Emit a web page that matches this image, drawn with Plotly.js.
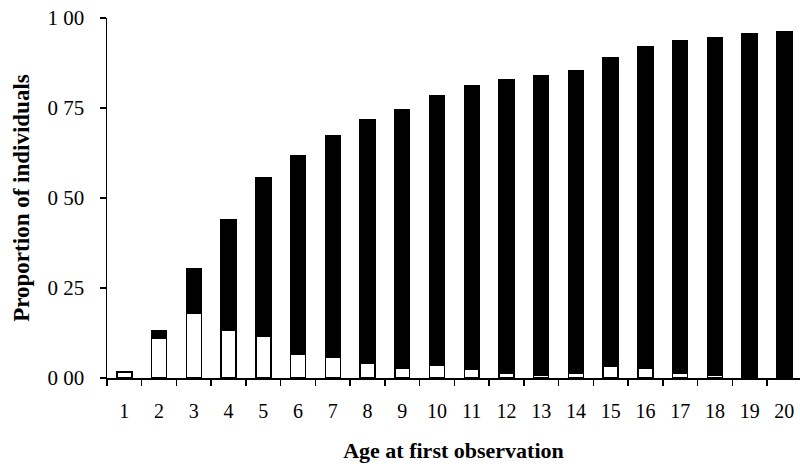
<!DOCTYPE html>
<html>
<head>
<meta charset="utf-8">
<script src="https://cdn.plot.ly/plotly-3.0.1.min.js"></script>
<style>html,body{margin:0;padding:0;background:#fff;}#chart{width:800px;height:467px;}</style>
</head>
<body>
<div id="chart"></div>
<script>
const ages = ["1","2","3","4","5","6","7","8","9","10","11","12","13","14","15","16","17","18","19","20"];
const whiteValues = [0.016, 0.111, 0.181, 0.134, 0.117, 0.065, 0.057, 0.042, 0.028, 0.036, 0.025, 0.013, 0.009, 0.013, 0.032, 0.028, 0.013, 0.008, 0.004, 0];
const blackValues = [0, 0.020, 0.123, 0.306, 0.439, 0.552, 0.617, 0.674, 0.717, 0.747, 0.786, 0.815, 0.830, 0.841, 0.857, 0.891, 0.923, 0.938, 0.952, 0.962];
const yTickVals = [0, 0.25, 0.5, 0.75, 1];
const yTickText = ["0 00", "0 25", "0 50", "0 75", "1 00"];

const font = "Liberation Serif, Times New Roman, serif";

const traces = [
  {type: "bar", x: ages, y: whiteValues, width: 0.43,
   marker: {color: "#ffffff", line: {color: "#000000", width: 1.5}}, hoverinfo: "skip"},
  {type: "bar", x: ages, y: blackValues, width: 0.43,
   marker: {color: "#000000", line: {color: "#000000", width: 1.5}}, hoverinfo: "skip"}
];

const layout = {
  width: 800, height: 467,
  margin: {l: 107, r: 0, t: 18, b: 89},
  barmode: "stack",
  showlegend: false,
  paper_bgcolor: "#ffffff",
  plot_bgcolor: "#ffffff",
  font: {family: font, color: "#000000", size: 20},
  xaxis: {
    type: "category",
    range: [-0.5, 19.45],
    showline: true, linecolor: "#000", linewidth: 1.5,
    ticks: "outside", tickson: "boundaries", ticklen: 6, tickwidth: 1.5, tickcolor: "#000",
    showgrid: false, zeroline: false,
    tickfont: {family: font, size: 20},
    ticklabelstandoff: 14,
    title: {text: "<b>Age at first observation</b>", font: {family: font, size: 22}, standoff: 22}
  },
  yaxis: {
    range: [0, 1],
    tickmode: "array", tickvals: yTickVals, ticktext: yTickText,
    showline: true, linecolor: "#000", linewidth: 1.5,
    ticks: "outside", ticklen: 6, tickwidth: 1.5, tickcolor: "#000",
    showgrid: false, zeroline: false,
    tickfont: {family: font, size: 21},
    ticklabelstandoff: 11,
    title: {text: "<b>Proportion of individuals</b>", font: {family: font, size: 23}, standoff: 11}
  }
};

Plotly.newPlot("chart", traces, layout, {displayModeBar: false, staticPlot: true});
</script>
</body>
</html>
